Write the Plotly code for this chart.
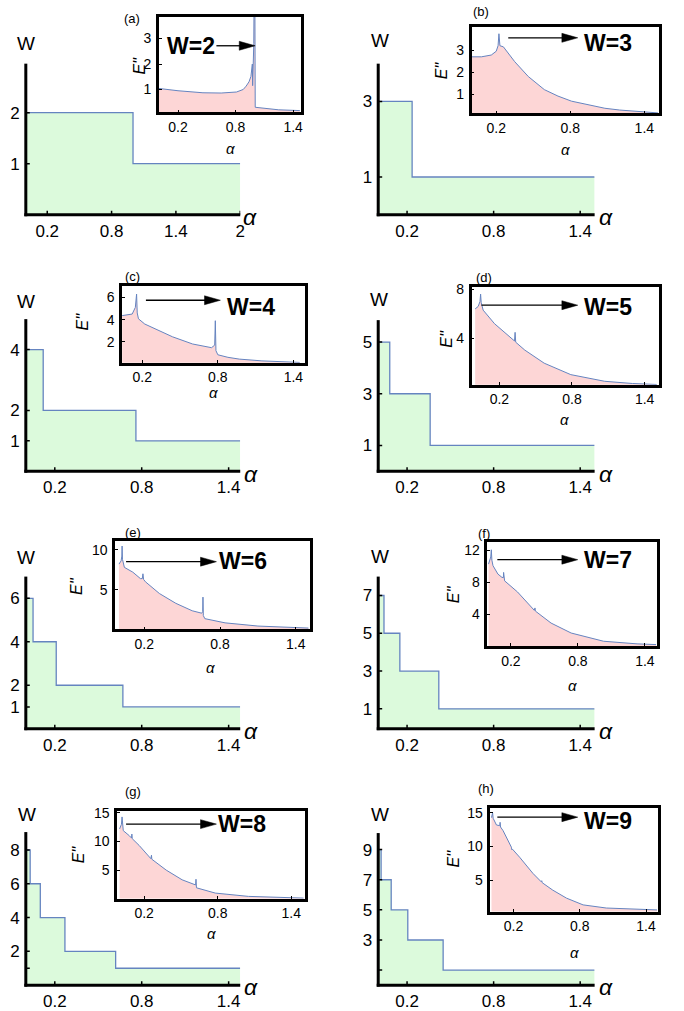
import plotly.graph_objects as go

# ---------------- data ----------------
# Main panels: winding number W as a step function of alpha
steps_a = [0.0, 1.0, 2.0]
W_a = [2, 1, 1]
steps_b = [0.0, 0.235, 1.5]
W_b = [3, 1, 1]
steps_c = [0.0, 0.12, 0.76, 1.48]
W_c = [4, 2, 1, 1]
steps_d = [0.0, 0.08, 0.36, 1.5]
W_d = [5, 3, 1, 1]
steps_e = [0.0, 0.05, 0.21, 0.67, 1.48]
W_e = [6, 4, 2, 1, 1]
steps_f = [0.0, 0.04, 0.15, 0.42, 1.5]
W_f = [7, 5, 3, 1, 1]
steps_g = [0.0, 0.03, 0.1, 0.27, 0.62, 1.48]
W_g = [8, 6, 4, 2, 1, 1]
steps_h = [0.0, 0.02, 0.09, 0.205, 0.45, 1.5]
W_h = [9, 7, 5, 3, 1, 1]

# Insets: second derivative of the ground-state energy E'' versus alpha
alpha_in_a = [0.0, 0.2, 0.46, 0.65, 0.81, 0.88, 0.91, 0.94, 0.96, 0.975, 0.978, 0.982,
              0.99, 0.995, 1.0, 1.005, 1.1, 1.25, 1.47]
E2_a = [1.04, 0.95, 0.87, 0.86, 0.9, 1.0, 1.13, 1.3, 1.51, 2.0, 1.15, 2.1,
        2.8, 6.0, 6.0, 0.3, 0.25, 0.2, 0.17]

alpha_in_b = [0.0, 0.08, 0.16, 0.2, 0.215, 0.222, 0.23, 0.258, 0.35, 0.46, 0.59, 0.7,
              0.81, 0.95, 1.08, 1.2, 1.35, 1.51]
E2_b = [2.7, 2.7, 2.78, 2.95, 3.2, 3.74, 3.2, 3.15, 2.48, 1.81, 1.22, 0.93,
        0.7, 0.52, 0.38, 0.3, 0.23, 0.17]

alpha_in_c = [0.04, 0.08, 0.12, 0.145, 0.155, 0.16, 0.17, 0.22, 0.3, 0.44, 0.6, 0.7,
              0.75, 0.775, 0.78, 0.785, 0.8, 0.88, 0.97, 1.15, 1.3, 1.45]
E2_c = [4.36, 4.4, 4.5, 5.1, 6.3, 4.6, 4.07, 3.6, 3.19, 2.45, 1.8, 1.55,
        1.47, 1.7, 3.9, 1.2, 0.83, 0.6, 0.44, 0.28, 0.2, 0.14]

alpha_in_d = [0.0, 0.025, 0.04, 0.045, 0.05, 0.066, 0.16, 0.3, 0.325, 0.33, 0.335,
              0.41, 0.57, 0.79, 1.07, 1.3, 1.5]
E2_d = [6.4, 6.6, 7.0, 7.6, 6.9, 6.3, 5.2, 4.0, 3.8, 4.5, 3.7,
        3.06, 2.0, 1.07, 0.53, 0.35, 0.27]

alpha_in_e = [0.0, 0.017, 0.023, 0.025, 0.028, 0.043, 0.11, 0.17, 0.185, 0.19, 0.195,
              0.21, 0.32, 0.45, 0.58, 0.655, 0.663, 0.665, 0.668, 0.68, 0.84, 1.1,
              1.39, 1.5]
E2_e = [8.2, 8.6, 9.2, 10.45, 8.8, 7.8, 7.2, 6.4, 6.4, 7.0, 6.3,
        6.0, 4.55, 3.33, 2.4, 2.1, 2.3, 4.1, 1.8, 1.42, 0.9, 0.5,
        0.3, 0.25]

alpha_in_f = [0.0, 0.01, 0.02, 0.025, 0.03, 0.04, 0.084, 0.12, 0.133, 0.135, 0.138,
              0.144, 0.26, 0.41, 0.416, 0.42, 0.56, 0.74, 1.03, 1.33, 1.5]
E2_f = [10.3, 10.7, 11.2, 12.1, 10.8, 10.1, 9.05, 8.64, 8.6, 9.26, 8.4,
        8.2, 6.8, 4.5, 4.8, 4.4, 2.9, 1.65, 0.62, 0.29, 0.2]

alpha_in_g = [0.0, 0.005, 0.015, 0.02, 0.025, 0.03, 0.08, 0.098, 0.1, 0.103, 0.16,
              0.255, 0.26, 0.263, 0.38, 0.51, 0.62, 0.623, 0.627, 0.78, 1.05, 1.4, 1.5]
E2_g = [12.2, 12.5, 13.0, 14.3, 12.6, 11.9, 11.0, 10.6, 11.3, 10.5, 9.3,
        7.0, 7.6, 6.9, 5.0, 3.3, 2.4, 3.4, 1.9, 0.98, 0.4, 0.12, 0.1]

alpha_in_h = [0.0, 0.005, 0.01, 0.015, 0.03, 0.045, 0.075, 0.078, 0.082, 0.105, 0.18,
              0.185, 0.19, 0.255, 0.375, 0.45, 0.455, 0.46, 0.555, 0.68, 0.83, 1.04,
              1.4, 1.5]
E2_h = [14.3, 14.6, 15.0, 14.2, 13.8, 13.2, 13.1, 13.6, 12.9, 12.35, 9.9,
        9.5, 9.6, 8.4, 6.0, 4.75, 4.9, 4.6, 3.5, 2.3, 1.3, 0.83,
        0.6, 0.55]

# Tick values / labels
main_xticks_a = [0.2, 0.8, 1.4, 2.0]
main_xtext_a = ["0.2", "0.8", "1.4", "2"]
main_xticks = [0.2, 0.8, 1.4]
main_xtext = ["0.2", "0.8", "1.4"]
inset_xticks = [0.2, 0.8, 1.4]
inset_xtext = ["0.2", "0.8", "1.4"]

main_yticks = {
    "a": [1, 2], "b": [1, 3], "c": [1, 2, 4], "d": [1, 3, 5],
    "e": [1, 2, 4, 6], "f": [1, 3, 5, 7], "g": [1, 2, 4, 6, 8], "h": [1, 3, 5, 7, 9],
}
main_ytext = {
    "a": ["1", "2"], "b": ["1", "3"], "c": ["1", "2", "4"], "d": ["1", "3", "5"],
    "e": ["1", "2", "4", "6"], "f": ["1", "3", "5", "7"],
    "g": ["", "2", "4", "6", "8"], "h": ["", "3", "5", "7", "9"],
}
inset_yticks = {
    "a": [1, 2, 3], "b": [1, 2, 3], "c": [2, 4, 6], "d": [4, 8],
    "e": [5, 10], "f": [4, 8, 12], "g": [5, 10, 15], "h": [5, 10, 15],
}

panels = {
    "a": dict(steps=steps_a, W=W_a, al=alpha_in_a, E=E2_a, Wmax=2),
    "b": dict(steps=steps_b, W=W_b, al=alpha_in_b, E=E2_b, Wmax=3),
    "c": dict(steps=steps_c, W=W_c, al=alpha_in_c, E=E2_c, Wmax=4),
    "d": dict(steps=steps_d, W=W_d, al=alpha_in_d, E=E2_d, Wmax=5),
    "e": dict(steps=steps_e, W=W_e, al=alpha_in_e, E=E2_e, Wmax=6),
    "f": dict(steps=steps_f, W=W_f, al=alpha_in_f, E=E2_f, Wmax=7),
    "g": dict(steps=steps_g, W=W_g, al=alpha_in_g, E=E2_g, Wmax=8),
    "h": dict(steps=steps_h, W=W_h, al=alpha_in_h, E=E2_h, Wmax=9),
}

# ---------------- layout geometry (pixels) ----------------
FW, FH = 684, 1011


def fx(px):
    return px / FW


def fy(py):
    return 1 - py / FH


# main plot boxes: (left, right, top, bottom), axis ranges
geom = {
    "a": dict(main=(26, 242, 58, 210), mx=[0, 2.0], my=[0, 2.96],
              ins=(160, 303, 11, 107), ix=[0, 1.48], iy=[0.1, 3.85]),
    "b": dict(main=(381, 599, 58, 210), mx=[0, 1.5], my=[0, 4.0],
              ins=(475, 664, 21, 108), ix=[0, 1.52], iy=[0.15, 4.05]),
    "c": dict(main=(26, 242, 315, 468), mx=[0, 1.48], my=[0, 5.0],
              ins=(123, 307, 282, 359), ix=[0.04, 1.49], iy=[0.1, 7.0]),
    "d": dict(main=(381, 599, 316, 468), mx=[0, 1.5], my=[0, 5.85],
              ins=(475, 664, 283, 381), ix=[-0.03, 1.52], iy=[0.25, 8.15]),
    "e": dict(main=(26, 242, 574, 727), mx=[0, 1.48], my=[0, 7.0],
              ins=(116, 312, 538, 627), ix=[-0.03, 1.51], iy=[0.1, 11.1]),
    "f": dict(main=(381, 599, 574, 727), mx=[0, 1.5], my=[-0.05, 8.0],
              ins=(491, 662, 539, 644), ix=[-0.01, 1.51], iy=[0, 13.1]),
    "g": dict(main=(26, 242, 831, 985), mx=[0, 1.48], my=[0, 9.06],
              ins=(118, 307, 810, 898), ix=[-0.02, 1.51], iy=[0, 15.3]),
    "h": dict(main=(381, 599, 832, 985), mx=[0, 1.5], my=[0, 10.1],
              ins=(494, 663, 807, 911), ix=[-0.01, 1.51], iy=[0.3, 15.7]),
}

# label positions (pixel centres)
labels = {
    "a": dict(W=(26, 38), al=(252, 212), ial=(232, 143), E=(141, 60), tag=(133, 13),
              txt=(192, 40), arr=(218, 257, 40)),
    "b": dict(W=(383, 35), al=(610, 212), ial=(570, 144), E=(445, 65), tag=(485, 6),
              txt=(612, 37), arr=(512, 582, 32)),
    "c": dict(W=(26, 297), al=(253, 471), ial=(215, 389), E=(83, 317), tag=(133, 272),
              txt=(253, 303), arr=(147, 222, 296)),
    "d": dict(W=(382, 295), al=(610, 471), ial=(569, 416), E=(449, 335), tag=(488, 273),
              txt=(612, 303), arr=(485, 582, 301)),
    "e": dict(W=(26, 555), al=(253, 729), ial=(212, 665), E=(77, 583), tag=(134, 530),
              txt=(245, 558), arr=(127, 218, 559)),
    "f": dict(W=(383, 554), al=(610, 729), ial=(577, 684), E=(457, 592), tag=(488, 531),
              txt=(612, 557), arr=(501, 582, 557)),
    "g": dict(W=(27, 813), al=(253, 987), ial=(213, 933), E=(80, 853), tag=(134, 790),
              txt=(244, 823), arr=(127, 218, 823)),
    "h": dict(W=(383, 813), al=(610, 987), ial=(579, 952), E=(457, 858), tag=(490, 787),
              txt=(612, 820), arr=(501, 582, 816)),
}

LINE = "#6584C0"
GREEN = "#DCFADC"
PINK = "#FDD6D6"
FONT = "Liberation Sans, Arial, sans-serif"


def axname(n):
    return "xaxis" if n == 1 else f"xaxis{n}", "yaxis" if n == 1 else f"yaxis{n}"


def axref(n):
    return "x" if n == 1 else f"x{n}", "y" if n == 1 else f"y{n}"


fig = go.Figure()
layout = dict(
    width=FW, height=FH, autosize=False,
    margin=dict(l=0, r=0, t=0, b=0),
    paper_bgcolor="white", plot_bgcolor="rgba(0,0,0,0)",
    showlegend=False,
    font=dict(family=FONT, color="black"),
)
annotations = []
shapes = []


def ann(pos, text, size, **kw):
    annotations.append(dict(
        x=fx(pos[0]), y=fy(pos[1]), xref="paper", yref="paper",
        text=text, showarrow=False, xanchor="center", yanchor="middle",
        font=dict(size=size, family=FONT, color="black"), **kw,
    ))


for i, key in enumerate("abcdefgh"):
    p = panels[key]
    g = geom[key]
    lb = labels[key]
    mi = 2 * i + 1
    ii = 2 * i + 2
    mxn, myn = axname(mi)
    mxr, myr = axref(mi)
    ixn, iyn = axname(ii)
    ixr, iyr = axref(ii)

    # main step function
    fig.add_trace(go.Scatter(
        x=p["steps"], y=p["W"], mode="lines", line_shape="hv",
        line=dict(color=LINE, width=1.3), fill="tozeroy", fillcolor=GREEN,
        xaxis=mxr, yaxis=myr, hoverinfo="skip",
    ))
    # inset E'' curve
    fig.add_trace(go.Scatter(
        x=p["al"], y=p["E"], mode="lines",
        line=dict(color=LINE, width=1.0), fill="tozeroy", fillcolor=PINK,
        xaxis=ixr, yaxis=iyr, hoverinfo="skip",
    ))

    l, r, t, b = g["main"]
    xt = main_xticks_a if key == "a" else main_xticks
    xtt = main_xtext_a if key == "a" else main_xtext
    layout[mxn] = dict(
        domain=[fx(l), fx(r)], range=g["mx"], anchor=myr,
        showline=False, ticks="", ticklabelstandoff=4,
        tickvals=xt, ticktext=xtt, tickfont=dict(size=17, family=FONT),
        showgrid=False, zeroline=False, fixedrange=True,
    )
    layout[myn] = dict(
        domain=[fy(b), fy(t)], range=g["my"], anchor=mxr,
        showline=False, ticks="", ticklabelstandoff=5,
        tickvals=main_yticks[key], ticktext=main_ytext[key],
        tickfont=dict(size=17, family=FONT),
        showgrid=False, zeroline=False, fixedrange=True,
    )
    # thick L-shaped frame of the main panel
    shapes.append(dict(type="line", xref="paper", yref="paper", layer="above",
                       x0=fx(l), x1=fx(l), y0=fy(b + 1.5), y1=fy(t),
                       line=dict(color="black", width=3)))
    shapes.append(dict(type="line", xref="paper", yref="paper", layer="above",
                       x0=fx(l - 1.5), x1=fx(r), y0=fy(b), y1=fy(b),
                       line=dict(color="black", width=3)))
    # short inward tick marks on the main frame
    for xv in xt:
        shapes.append(dict(type="line", xref=mxr, yref="paper", layer="above",
                           x0=xv, x1=xv, y0=fy(b), y1=fy(b - 4),
                           line=dict(color="black", width=1.5)))
    for yv in main_yticks[key]:
        shapes.append(dict(type="line", xref="paper", yref=myr, layer="above",
                           x0=fx(l), x1=fx(l + 4), y0=yv, y1=yv,
                           line=dict(color="black", width=1.5)))

    l, r, t, b = g["ins"]
    layout[ixn] = dict(
        domain=[fx(l), fx(r)], range=g["ix"], anchor=iyr,
        showline=True, linewidth=2.5, linecolor="black", mirror=True,
        ticks="inside", ticklen=3, tickwidth=1.2, tickcolor="black",
        ticklabelstandoff=0,
        tickvals=inset_xticks, ticktext=inset_xtext,
        tickfont=dict(size=14, family=FONT),
        showgrid=False, zeroline=False, fixedrange=True,
    )
    layout[iyn] = dict(
        domain=[fy(b), fy(t)], range=g["iy"], anchor=ixr,
        showline=True, linewidth=2.5, linecolor="black", mirror=True,
        ticks="inside", ticklen=3, tickwidth=1.2, tickcolor="black",
        ticklabelstandoff=2,
        tickvals=inset_yticks[key], tickfont=dict(size=14, family=FONT),
        showgrid=False, zeroline=False, fixedrange=True,
    )

    ann(lb["W"], "W", 19)
    ann(lb["al"], "<i>α</i>", 23)
    ann(lb["ial"], "<i>α</i>", 15)
    ann(lb["E"], "<i>E''</i>", 16, textangle=-90)
    ann(lb["tag"], f"({key})", 13)
    ann(lb["txt"], f"<b>W={p['Wmax']}</b>", 23)

    # arrow: shaft + filled head
    x0, x1, ya = lb["arr"]
    head = 16
    shapes.append(dict(type="line", xref="paper", yref="paper", layer="above",
                       x0=fx(x0), x1=fx(x1 - head + 1), y0=fy(ya), y1=fy(ya),
                       line=dict(color="black", width=1.3)))
    shapes.append(dict(type="path", xref="paper", yref="paper", layer="above",
                       path=(f"M {fx(x1 - head)},{fy(ya - 4.5)} L {fx(x1)},{fy(ya)} "
                             f"L {fx(x1 - head)},{fy(ya + 4.5)} Z"),
                       fillcolor="black", line=dict(color="black", width=0.5)))

layout["annotations"] = annotations
layout["shapes"] = shapes
fig.update_layout(**layout)
fig.write_html("out.html")
